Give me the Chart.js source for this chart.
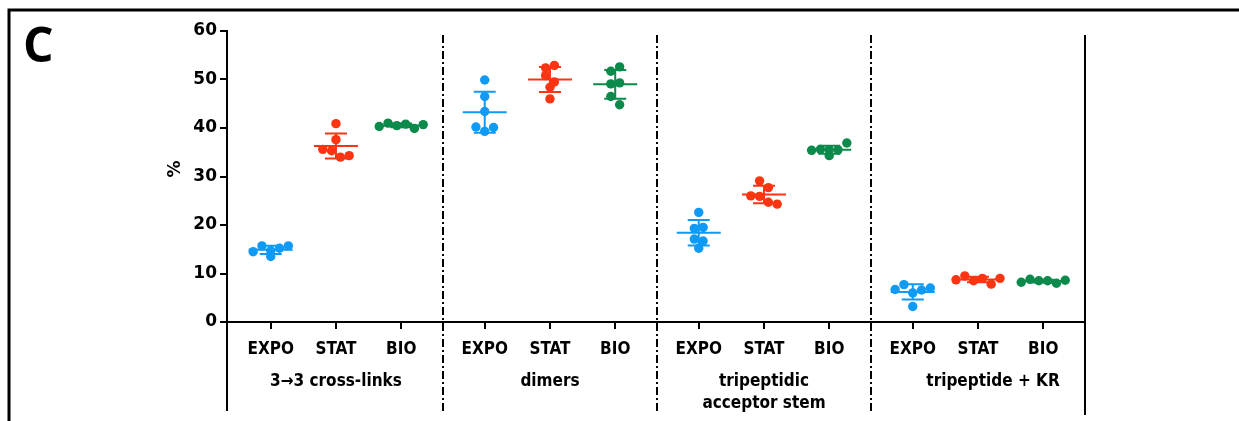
<!DOCTYPE html>
<html>
<head>
<meta charset="utf-8">
<script src="https://cdn.jsdelivr.net/npm/chart.js@4"></script>
<style>
  html, body { margin: 0; background: #fff; }
  canvas { display: block; }
</style>
</head>
<body>
<canvas id="grafico" width="1239" height="421"></canvas>
<script>
// Datos (% por réplica)
const phases = ['EXPO', 'STAT', 'BIO'];
const groups = [['3\u21923 cross-links'], ['dimers'], ['tripeptidic', 'acceptor stem'], ['tripeptide + KR']];
const yTicks = [0, 10, 20, 30, 40, 50, 60];

const expo = [
    [14.5, 15.7, 14.7, 15.2, 15.7, 13.5],
    [49.9, 46.5, 43.4, 40.2, 39.3, 40.1],
    [22.6, 19.3, 19.5, 17.1, 16.7, 15.2],
    [6.7, 7.7, 6.0, 6.6, 7.0, 3.2]
];
const stat = [
    [40.9, 37.6, 35.6, 35.3, 34.0, 34.3],
    [52.4, 52.9, 50.8, 49.5, 48.4, 46.0],
    [29.1, 27.7, 26.0, 25.9, 24.7, 24.3],
    [8.7, 9.5, 8.5, 9.0, 7.8, 9.0]
];
const bio = [
    [40.3, 41.0, 40.5, 40.8, 39.9, 40.7],
    [51.7, 52.6, 49.1, 49.3, 46.5, 44.8],
    [35.4, 35.6, 35.5, 35.5, 36.9, 34.3],
    [8.2, 8.8, 8.5, 8.5, 8.0, 8.6]
];

const series = [expo, stat, bio];
const colors = ['#0f9af5', '#fb3512', '#0b8a4b'];
const GROUP_STEP = 3.28;   // distancia entre grupos (en unidades de categoría)
const DOT = 4.7;

const pos = (g, c) => g * GROUP_STEP + c;
const tickPos = [];
groups.forEach((_, g) => phases.forEach((_, c) => tickPos.push(pos(g, c))));

const datasets = series.map((vals, c) => ({
    label: phases[c],
    data: vals.flatMap((arr, g) => arr.map((v, i) => ({ x: pos(g, c), y: v, g: g, i: i, cx: pos(g, c) }))),
    backgroundColor: colors[c],
    borderWidth: 0,
    pointRadius: DOT,
    pointHoverRadius: DOT
}));

// Reparte los puntos en filas horizontales (como Prism) para que no se tapen
function spread(chart) {
    const xs = chart.scales.x, ys = chart.scales.y;
    const unit = xs.getPixelForValue(1) - xs.getPixelForValue(0);
    const rowH = 8.8;
    const gap = 8.8;
    chart.data.datasets.forEach(ds => {
        groups.forEach((_, g) => {
            const rows = [];
            let cur = null;
            ds.data.filter(p => p.g === g).sort((a, b) => b.y - a.y).forEach(p => {
                const py = ys.getPixelForValue(p.y);
                if (!cur || py - cur.top > rowH) {
                    cur = { top: py, pts: [] };
                    rows.push(cur);
                }
                cur.pts.push(p);
            });
            rows.forEach(r => {
                r.pts.sort((a, b) => a.i - b.i);
                const n = r.pts.length;
                r.pts.forEach((p, j) => { p.x = p.cx + (j - (n - 1) / 2) * gap / unit; });
            });
        });
    });
}

// Media y desviación estándar
const errorBars = {
    id: 'errorBars',
    afterDatasetsDraw(chart) {
        const { ctx, scales: { x, y } } = chart;
        ctx.save();
        ctx.lineWidth = 2;
        series.forEach((vals, c) => {
            ctx.strokeStyle = colors[c];
            vals.forEach((arr, g) => {
                const m = arr.reduce((a, b) => a + b, 0) / arr.length;
                const sd = Math.sqrt(arr.reduce((a, b) => a + (b - m) ** 2, 0) / (arr.length - 1));
                const cx = x.getPixelForValue(pos(g, c));
                const ym = y.getPixelForValue(m);
                const yt = y.getPixelForValue(m + sd);
                const yb = y.getPixelForValue(m - sd);
                ctx.beginPath();
                ctx.moveTo(cx - 22, ym); ctx.lineTo(cx + 22, ym);
                ctx.moveTo(cx, yt); ctx.lineTo(cx, yb);
                ctx.moveTo(cx - 11, yt); ctx.lineTo(cx + 11, yt);
                ctx.moveTo(cx - 11, yb); ctx.lineTo(cx + 11, yb);
                ctx.stroke();
            });
        });
        ctx.restore();
    }
};

// Marco, separadores y textos extra
const decor = {
    id: 'decor',
    afterDraw(chart) {
        const { ctx, chartArea: a, scales: { x } } = chart;
        ctx.save();
        ctx.strokeStyle = '#000';
        ctx.lineWidth = 3;
        ctx.beginPath();
        ctx.moveTo(9, 421); ctx.lineTo(9, 10); ctx.lineTo(1239, 10);
        ctx.stroke();

        ctx.lineWidth = 2;
        ctx.beginPath();
        ctx.moveTo(a.left, a.bottom); ctx.lineTo(a.left, 411);
        ctx.moveTo(a.right, 35); ctx.lineTo(a.right, 415);
        ctx.stroke();

        ctx.setLineDash([8, 3, 2, 3]);
        for (let g = 0; g < groups.length - 1; g++) {
            const sx = Math.round(x.getPixelForValue(pos(g, 2) + (GROUP_STEP - 2) / 2));
            ctx.beginPath();
            ctx.moveTo(sx, 35); ctx.lineTo(sx, 413);
            ctx.stroke();
        }
        ctx.setLineDash([]);

        ctx.fillStyle = '#000';
        ctx.textAlign = 'center';
        ctx.textBaseline = 'middle';
        ctx.font = 'bold 17px "Liberation Sans Narrow", "DejaVu Sans Condensed"';
        groups.forEach((lines, g) => {
            const cx = x.getPixelForValue(pos(g, 1)) + (g === 3 ? 15 : 0);
            lines.forEach((t, i) => ctx.fillText(t, cx, 382 + i * 22));
        });

        ctx.font = 'bold 48px "Open Sans"';
        ctx.textAlign = 'left';
        ctx.textBaseline = 'alphabetic';
        ctx.fillText('C', 23, 62);

        ctx.translate(176, 169);
        ctx.rotate(-Math.PI / 2);
        ctx.font = 'bold 17px "DejaVu Sans"';
        ctx.textAlign = 'center';
        ctx.textBaseline = 'middle';
        ctx.fillText('%', 0, 0);
        ctx.restore();
    }
};

const PAD_L = 100;

const chart = new Chart(document.getElementById('grafico'), {
    type: 'scatter',
    data: { datasets: datasets },
    options: {
        responsive: false,
        animation: false,
        devicePixelRatio: 1,
        events: [],
        layout: { padding: { left: PAD_L, top: 31, right: 154, bottom: 0 } },
        plugins: { legend: { display: false }, tooltip: { enabled: false } },
        scales: {
            x: {
                type: 'linear',
                min: -0.67,
                max: pos(groups.length - 1, 2) + 0.64,
                afterBuildTicks: s => { s.ticks = tickPos.map(v => ({ value: v })); },
                afterFit: s => { s.height = 99; },
                ticks: {
                    autoSkip: false,
                    maxRotation: 0,
                    padding: 10,
                    color: '#000',
                    font: { family: '"Liberation Sans Narrow", "DejaVu Sans Condensed"', size: 17, weight: 'bold' },
                    callback: (v, i) => phases[i % phases.length]
                },
                grid: { drawOnChartArea: false, tickLength: 7, color: '#000', lineWidth: 2 },
                border: { color: '#000', width: 2 }
            },
            y: {
                min: yTicks[0],
                max: yTicks[yTicks.length - 1],
                afterBuildTicks: s => { s.ticks = yTicks.map(v => ({ value: v })); },
                afterFit: s => { s.width = 227 - PAD_L; },
                ticks: {
                    padding: 3,
                    color: '#000',
                    font: { family: '"DejaVu Sans"', size: 17, weight: 'bold' }
                },
                grid: { drawOnChartArea: false, tickLength: 7, color: '#000', lineWidth: 2 },
                border: { color: '#000', width: 2 }
            }
        }
    },
    plugins: [errorBars, decor]
});

spread(chart);
chart.update('none');
</script>
</body>
</html>
